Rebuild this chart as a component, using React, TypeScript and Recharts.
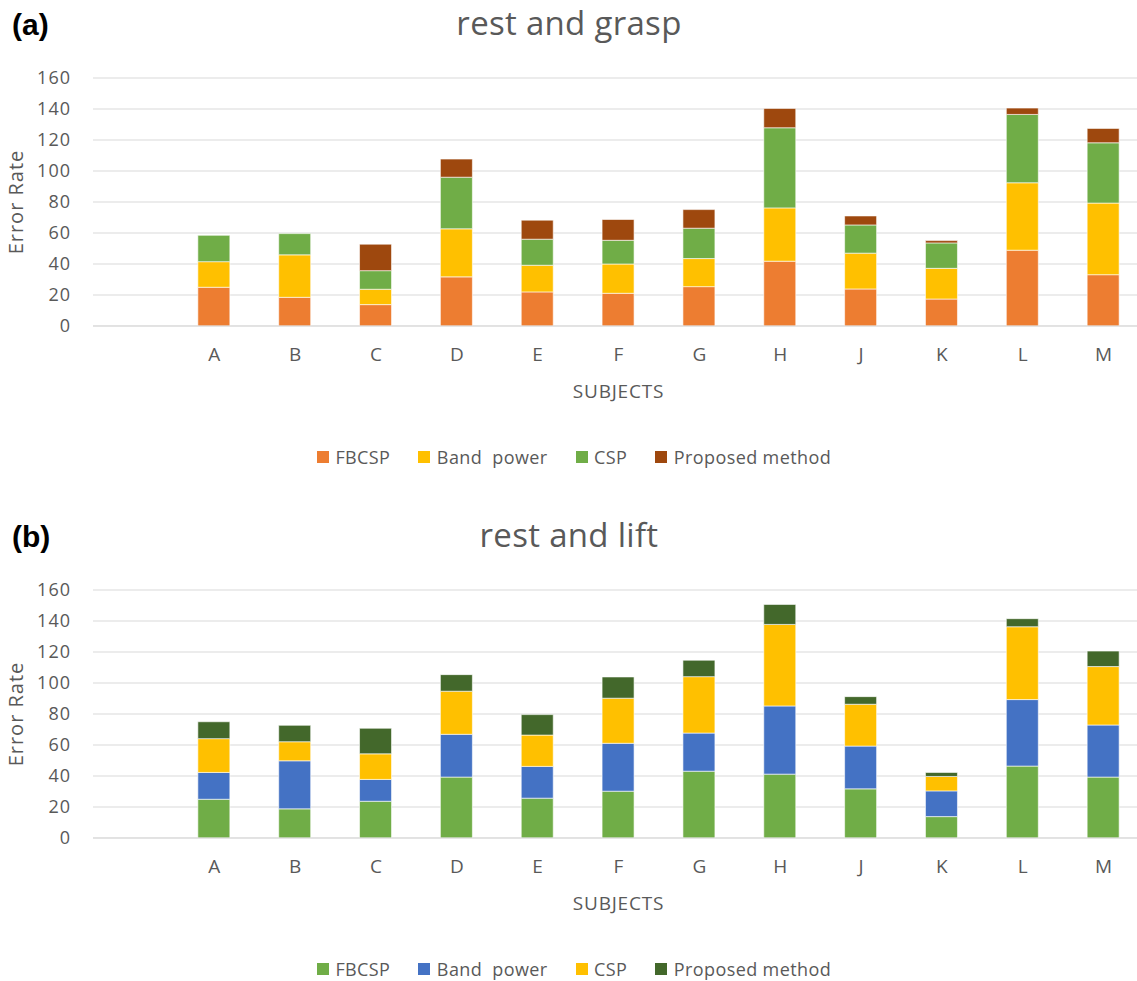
import { Bar, BarChart, CartesianGrid, Label, XAxis, YAxis } from "recharts";

const subjects = ["", "A", "B", "C", "D", "E", "F", "G", "H", "J", "K", "L", "M"];
const yTicks = [0, 20, 40, 60, 80, 100, 120, 140, 160];
const seriesNames = ["FBCSP", "Band  power", "CSP", "Proposed method"];

// (a) rest and grasp
const graspFbcsp = [null, 25, 18.5, 13.8, 31.7, 22, 21.1, 25.4, 41.8, 23.9, 17.4, 48.9, 33.1];
const graspBandPower = [null, 16.5, 27.4, 9.9, 31, 17.2, 18.9, 18.1, 34.4, 23.1, 19.8, 43.5, 46.2];
const graspCsp = [null, 17, 13.7, 12, 33.3, 16.8, 15.3, 19.6, 51.7, 18.2, 16.4, 44.1, 38.9];
const graspProposed = [null, 0, 0, 17.1, 11.7, 12.3, 13.4, 12, 12.5, 5.8, 1.5, 4.1, 9.3];

// (b) rest and lift
const liftFbcsp = [null, 25, 18.8, 23.7, 39.3, 25.7, 30.2, 43.1, 41.2, 31.7, 13.8, 46.4, 39.3];
const liftBandPower = [null, 17.3, 31, 14.1, 27.6, 20.5, 30.9, 24.6, 44, 27.6, 16.6, 42.9, 33.6];
const liftCsp = [null, 21.8, 12.3, 16.5, 27.8, 20.2, 29.1, 36.4, 52.6, 27, 9.3, 47, 37.7];
const liftProposed = [null, 10.9, 10.6, 16.5, 10.7, 13.2, 13.7, 10.6, 12.9, 4.9, 2.6, 5.2, 10];

const graspColors = ["#ED7D31", "#FFC000", "#70AD47", "#9E480E"];
const liftColors = ["#70AD47", "#4472C4", "#FFC000", "#43682B"];

const FONT = "'Open Sans', sans-serif";
const GRAY = "#595959";
const keys = ["s0", "s1", "s2", "s3"];

function buildRows(cols: (number | null)[][]) {
  return subjects.map((subject, i) => ({
    subject,
    s0: cols[0][i],
    s1: cols[1][i],
    s2: cols[2][i],
    s3: cols[3][i]
  }));
}

type PanelProps = {
  tag: string;
  title: string;
  rows: ReturnType<typeof buildRows>;
  colors: string[];
  top: number;
};

function Panel({ tag, title, rows, colors, top }: PanelProps) {
  return (
    <div style={{ position: "absolute", left: 0, top, width: 1137, height: 490 }}>
      <div
        style={{
          position: "absolute",
          left: 12,
          top: 8,
          fontFamily: "'Liberation Sans', Arial, sans-serif",
          fontWeight: 700,
          fontSize: 30,
          lineHeight: "34px",
          color: "#000"
        }}
      >
        {tag}
      </div>
      <div
        style={{
          position: "absolute",
          left: 0,
          width: 1138,
          top: 0,
          textAlign: "center",
          fontFamily: FONT,
          fontSize: 33,
          lineHeight: "normal",
          letterSpacing: 0.3,
          color: GRAY
        }}
      >
        {title}
      </div>

      <BarChart width={1144} height={490} data={rows} margin={{ top: 78, right: 0, bottom: 88, left: 0 }}>
        <CartesianGrid stroke="#d9d9d9" vertical={false} />
        <XAxis
          dataKey="subject"
          height={76}
          interval={0}
          tickLine={false}
          axisLine={{ stroke: "#d9d9d9" }}
          tickMargin={16}
          tick={{ fill: GRAY, fontSize: 19, fontFamily: FONT }}
        >
          <Label
            value="SUBJECTS"
            position="insideBottom"
            offset={4}
            fill={GRAY}
            style={{ fontSize: 19, fontFamily: FONT, letterSpacing: 0.8, fill: GRAY }}
          />
        </XAxis>
        <YAxis
          width={93}
          domain={[0, 160]}
          ticks={yTicks}
          axisLine={false}
          tickLine={false}
          tickMargin={16}
          tick={{ fill: GRAY, fontSize: 18, fontFamily: FONT, letterSpacing: 1 }}
        >
          <Label
            value="Error Rate"
            angle={-90}
            position="insideLeft"
            offset={16}
            fill={GRAY}
            style={{ textAnchor: "middle", fontSize: 20, fontFamily: FONT, letterSpacing: 1, fill: GRAY }}
          />
        </YAxis>
        {keys.map((k, i) => (
          <Bar
            key={k}
            dataKey={k}
            name={seriesNames[i]}
            stackId="a"
            barSize={32}
            fill={colors[i]}
            stroke="#ffffff"
            strokeWidth={0.6}
            isAnimationActive={false}
          />
        ))}
      </BarChart>

      <div
        style={{
          position: "absolute",
          left: 0,
          width: 1148,
          top: 445,
          height: 24,
          display: "flex",
          justifyContent: "center",
          alignItems: "center",
          fontFamily: FONT,
          fontSize: 18,
          lineHeight: "24px",
          color: GRAY
        }}
      >
        {seriesNames.map((name, i) => (
          <div key={name} style={{ display: "flex", alignItems: "center", marginLeft: i === 0 ? 0 : 28 }}>
            <span style={{ width: 12, height: 12, background: colors[i], marginRight: 6.5, display: "inline-block" }} />
            <span style={{ whiteSpace: "pre", letterSpacing: 0.4 }}>{name}</span>
          </div>
        ))}
      </div>
    </div>
  );
}

export default function App() {
  const graspRows = buildRows([graspFbcsp, graspBandPower, graspCsp, graspProposed]);
  const liftRows = buildRows([liftFbcsp, liftBandPower, liftCsp, liftProposed]);
  return (
    <div
      style={{
        position: "absolute",
        left: 0,
        top: 0,
        width: 1137,
        height: 981,
        overflow: "hidden",
        background: "#fff"
      }}
    >
      <Panel tag="(a)" title="rest and grasp" rows={graspRows} colors={graspColors} top={0} />
      <Panel tag="(b)" title="rest and lift" rows={liftRows} colors={liftColors} top={512} />
    </div>
  );
}
